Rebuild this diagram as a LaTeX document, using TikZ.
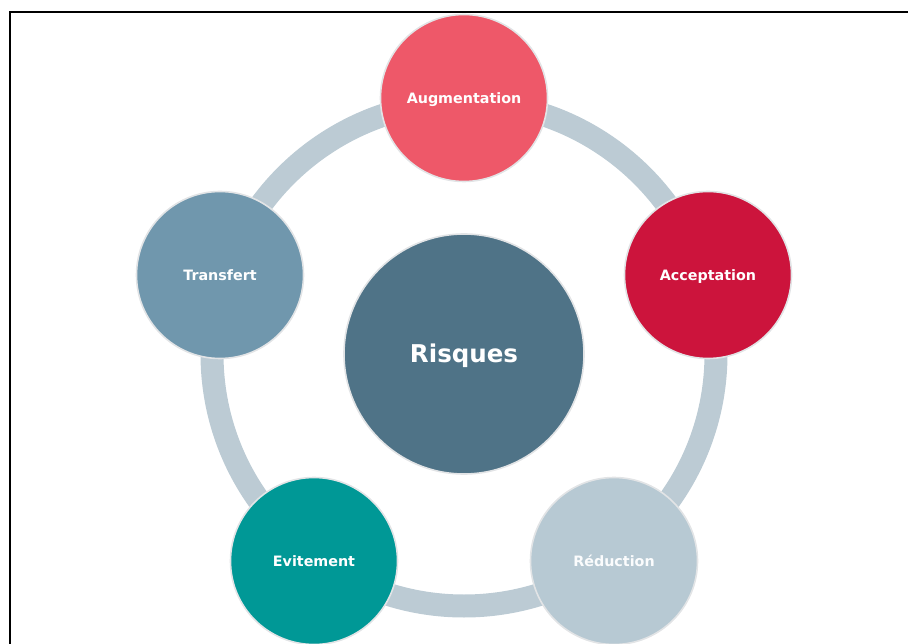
\documentclass[tikz,border=0pt]{standalone}
\usepackage{fontspec}
\setmainfont{DejaVu Sans}
\definecolor{ringgray}{HTML}{BCCBD4}
\definecolor{rimgray}{HTML}{E2E4E6}
\definecolor{cAug}{HTML}{EE5869}
\definecolor{cAcc}{HTML}{CC143C}
\definecolor{cRed}{HTML}{B7C9D3}
\definecolor{cEvi}{HTML}{009896}
\definecolor{cTra}{HTML}{7097AD}
\definecolor{cRis}{HTML}{4F7387}
\begin{document}
\begin{tikzpicture}[x=1pt,y=-1pt,
  petal/.style={circle, draw=rimgray, line width=1.6pt, minimum size=167pt,
    inner sep=0pt, text=white, text height=10.4pt, text depth=0pt,
    font=\fontsize{14.3}{16}\selectfont\bfseries},
  hub/.style={circle, draw=rimgray, line width=1.6pt, minimum size=240pt,
    inner sep=0pt, fill=cRis, text=white, text height=17.9pt, text depth=0pt,
    font=\fontsize{24.5}{28}\selectfont\bfseries}]
  \useasboundingbox (0,0) rectangle (908,644);
  % outer frame, running off the right and bottom edges
  \begin{scope}
    \clip (0,0) rectangle (908,644);
    \draw[line width=2pt, black] (10,12) rectangle (930,670);
  \end{scope}
  % centre of the cycle
  \coordinate (c) at (464,354);
  % the ring joining the five stages
  \draw[ringgray, line width=23pt] (c) circle[radius=252pt];
  % central topic
  \node[hub] (risques) at (c) {Risques};
  % five stages on the ring
  \node[petal, fill=cAug] (aug) at (464,98) {Augmentation};
  \node[petal, fill=cAcc] (acc) at (708,275) {Acceptation};
  \node[petal, fill=cRed, text=white!95!cRed] (red) at (614,561) {Réduction};
  \node[petal, fill=cEvi] (evi) at (314,561) {Evitement};
  \node[petal, fill=cTra] (tra) at (220,275) {Transfert};
\end{tikzpicture}
\end{document}
